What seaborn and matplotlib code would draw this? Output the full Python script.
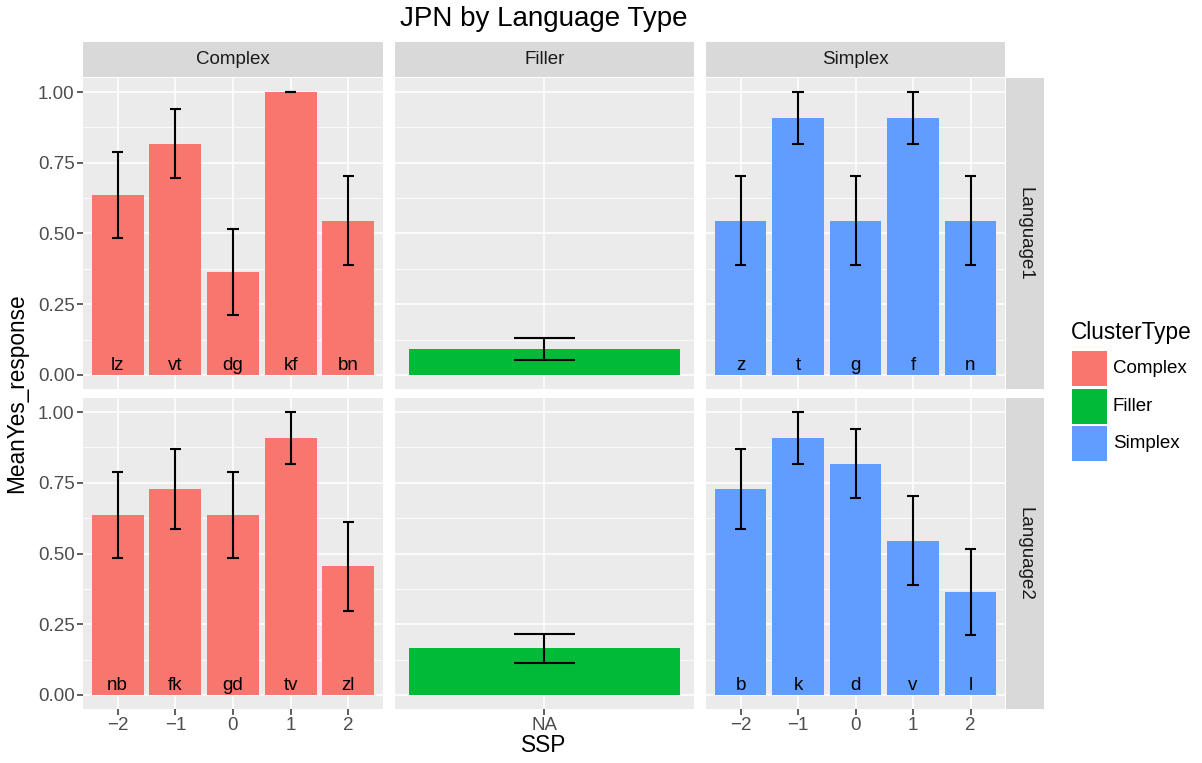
import numpy as np
import pandas as pd
import matplotlib
matplotlib.use("Agg")
import matplotlib.pyplot as plt
import seaborn as sns
from matplotlib.patches import Rectangle

# ---------------- data ----------------
ssp = [-2, -1, 0, 1, 2]
ssp_tick_labels = ["\u22122", "\u22121", "0", "1", "2"]
filler_tick = ["NA"]

complex_L1_labels = ["lz", "vt", "dg", "kf", "bn"]
complex_L1_mean = [0.636, 0.818, 0.364, 1.000, 0.545]
complex_L1_se = [0.152, 0.122, 0.152, 0.000, 0.157]

simplex_L1_labels = ["z", "t", "g", "f", "n"]
simplex_L1_mean = [0.545, 0.909, 0.545, 0.909, 0.545]
simplex_L1_se = [0.157, 0.091, 0.157, 0.091, 0.157]

complex_L2_labels = ["nb", "fk", "gd", "tv", "zl"]
complex_L2_mean = [0.636, 0.727, 0.636, 0.909, 0.455]
complex_L2_se = [0.152, 0.141, 0.152, 0.091, 0.157]

simplex_L2_labels = ["b", "k", "d", "v", "l"]
simplex_L2_mean = [0.727, 0.909, 0.818, 0.545, 0.364]
simplex_L2_se = [0.141, 0.091, 0.122, 0.157, 0.152]

filler_L1_mean = [0.093]
filler_L1_se = [0.039]
filler_L2_mean = [0.164]
filler_L2_se = [0.050]

cluster_types = ["Complex", "Filler", "Simplex"]
languages = ["Language1", "Language2"]
colors = {"Complex": "#F8766D", "Filler": "#00BA38", "Simplex": "#619CFF"}

y_ticks = [0.0, 0.25, 0.5, 0.75, 1.0]
y_tick_labels = ["0.00", "0.25", "0.50", "0.75", "1.00"]

# ---------------- style ----------------
sns.set_theme(style="white")
plt.rcParams["font.family"] = ["Liberation Sans", "DejaVu Sans"]

SMALL = 13.5
MID = 16.3
BIG = 20

W, H = 1202, 763
fig = plt.figure(figsize=(W / 100, H / 100), dpi=100)
fig.patch.set_facecolor("white")

def px_axes(x0, y0, x1, y1, **kw):
    return fig.add_axes([x0 / W, 1 - y1 / H, (x1 - x0) / W, (y1 - y0) / H], **kw)

col_x = [(83, 383), (395, 694), (706, 1005)]
row_y = [(78, 389), (398, 709)]

panels = {
    ("Language1", "Complex"): (complex_L1_labels, complex_L1_mean, complex_L1_se),
    ("Language1", "Simplex"): (simplex_L1_labels, simplex_L1_mean, simplex_L1_se),
    ("Language2", "Complex"): (complex_L2_labels, complex_L2_mean, complex_L2_se),
    ("Language2", "Simplex"): (simplex_L2_labels, simplex_L2_mean, simplex_L2_se),
    ("Language1", "Filler"): (None, filler_L1_mean, filler_L1_se),
    ("Language2", "Filler"): (None, filler_L2_mean, filler_L2_se),
}

tick_color = "#4D4D4D"

for ri, lang in enumerate(languages):
    for ci, ct in enumerate(cluster_types):
        x0, x1 = col_x[ci]
        y0, y1 = row_y[ri]
        ax = px_axes(x0, y0, x1, y1)
        ax.set_facecolor("#EBEBEB")
        labels, means, ses = panels[(lang, ct)]
        if ct == "Filler":
            df = pd.DataFrame({"SSP": filler_tick, "MeanYes_response": means})
            sns.barplot(data=df, x="SSP", y="MeanYes_response", color=colors[ct],
                        width=0.9, errorbar=None, linewidth=0, saturation=1, ax=ax)
            xs = [0]
            ax.set_xlim(-0.497, 0.497)
            ax.set_xticks([0])
            ax.set_xticklabels(filler_tick)
        else:
            df = pd.DataFrame({"SSP": ssp, "MeanYes_response": means})
            sns.barplot(data=df, x="SSP", y="MeanYes_response", color=colors[ct],
                        width=0.9, errorbar=None, linewidth=0, saturation=1,
                        native_scale=True, ax=ax)
            xs = ssp
            ax.set_xlim(-2.6, 2.6)
            ax.set_xticks(ssp)
            ax.set_xticklabels(ssp_tick_labels)
            for xv, lab in zip(xs, labels):
                ax.text(xv, 0.016, lab, ha="center", va="baseline",
                        fontsize=SMALL, color="black", zorder=5)
        # error bars (width 0.2 in data units)
        for xv, m, s in zip(xs, means, ses):
            ax.vlines(xv, m - s, m + s, color="black", lw=1.5, zorder=4)
            ax.hlines([m - s, m + s], xv - 0.1, xv + 0.1, color="black", lw=1.5, zorder=4)

        ax.set_ylim(-0.05, 1.05)
        ax.set_yticks(y_ticks)
        ax.set_yticks([0.125, 0.375, 0.625, 0.875], minor=True)
        ax.grid(True, which="major", color="white", lw=1.1)
        ax.grid(True, which="minor", axis="y", color="white", lw=0.55)
        ax.set_axisbelow(True)
        for sp in ax.spines.values():
            sp.set_visible(False)
        ax.set_xlabel("")
        ax.set_ylabel("")
        ax.tick_params(axis="both", which="major", length=4, width=1.1,
                       color="#333333", labelcolor=tick_color, labelsize=SMALL,
                       pad=2, left=(ci == 0), bottom=(ri == 1),
                       labelleft=(ci == 0), labelbottom=(ri == 1))
        ax.tick_params(axis="both", which="minor", length=0)
        if ci == 0:
            ax.set_yticklabels(y_tick_labels)

        # top strips
        if ri == 0:
            sax = px_axes(x0, 42, x1, 77)
            sax.set_facecolor("#D9D9D9")
            sax.set_xticks([]); sax.set_yticks([])
            for sp in sax.spines.values():
                sp.set_visible(False)
            sax.text(0.5, 0.5, ct, ha="center", va="center", fontsize=SMALL,
                     color="#1A1A1A", transform=sax.transAxes)
        # right strips
        if ci == 2:
            sax = px_axes(1006, y0, 1044, y1)
            sax.set_facecolor("#D9D9D9")
            sax.set_xticks([]); sax.set_yticks([])
            for sp in sax.spines.values():
                sp.set_visible(False)
            sax.text(0.5, 0.5, lang, ha="center", va="center", fontsize=SMALL,
                     color="#1A1A1A", rotation=-90, transform=sax.transAxes)

# titles
fig.text(544 / W, 1 - 19 / H, "JPN by Language Type", ha="center", va="center",
         fontsize=BIG, color="black")
fig.text(544 / W, 1 - 746 / H, "SSP", ha="center", va="center", fontsize=MID, color="black")
fig.text(17 / W, 1 - 393 / H, "MeanYes_response", ha="center", va="center",
         fontsize=MID, rotation=90, color="black")

# legend
fig.text(1071 / W, 1 - 333 / H, "ClusterType", ha="left", va="center", fontsize=MID, color="black")
key_y = [351, 389, 426]
for ct, ky in zip(cluster_types, key_y):
    fig.patches.append(Rectangle((1072 / W, 1 - (ky + 35) / H), 35 / W, 35 / H,
                                 transform=fig.transFigure, facecolor=colors[ct],
                                 edgecolor="none"))
    fig.text(1113 / W, 1 - (ky + 17.5) / H, ct, ha="left", va="center",
             fontsize=SMALL, color="black")

fig.savefig("out.png", dpi=100)
